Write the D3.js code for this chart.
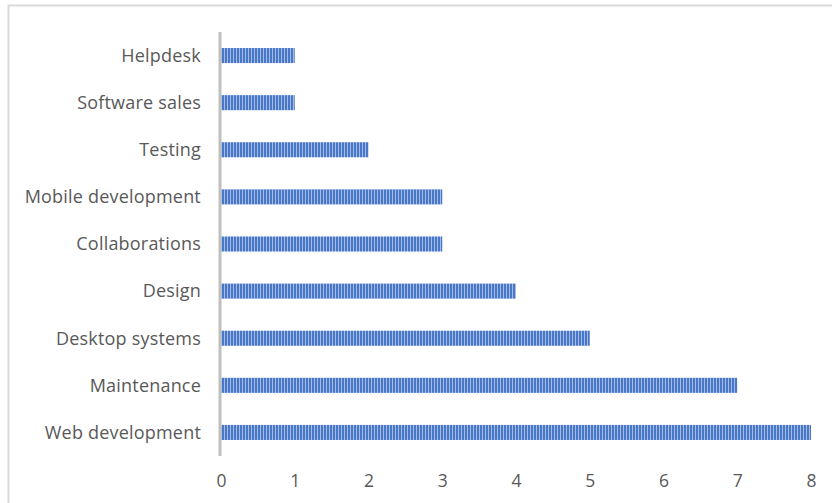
<!DOCTYPE html>
<html>
<head>
<meta charset="utf-8">
<script src="https://cdn.jsdelivr.net/npm/d3@7"></script>
<style>
  html, body { margin: 0; padding: 0; background: #ffffff; }
  svg { display: block; }
</style>
</head>
<body>
<div id="chart"></div>
<script>
// chart data
const categories = ['Helpdesk', 'Software sales', 'Testing', 'Mobile development', 'Collaborations',
  'Design', 'Desktop systems', 'Maintenance', 'Web development'];
const counts = [1, 1, 2, 3, 3, 4, 5, 7, 8];
const xTicks = [0, 1, 2, 3, 4, 5, 6, 7, 8];

const W = 832, H = 503;
const font = '"Open Sans", "Noto Sans", sans-serif';
const textColor = '#595959';

const svg = d3.select('#chart').append('svg')
  .attr('width', W)
  .attr('height', H);

// striped fill like the office "dark vertical" pattern
const defs = svg.append('defs');
const pat = defs.append('pattern')
  .attr('id', 'stripes')
  .attr('patternUnits', 'userSpaceOnUse')
  .attr('width', 3)
  .attr('height', 4);
pat.append('rect').attr('width', 3).attr('height', 4).attr('fill', '#4a78c8');
pat.append('rect').attr('x', 2).attr('width', 1).attr('height', 4).attr('fill', '#a4bbe6');

// chart border
svg.append('rect')
  .attr('x', 8.5).attr('y', 5.5)
  .attr('width', W).attr('height', H)
  .attr('fill', 'none')
  .attr('stroke', '#d9d9d9')
  .attr('stroke-width', 2);

const x = d3.scaleLinear().domain([0, 8]).range([221, 811]);
const y = d3.scaleBand().domain(categories).range([32, 456]).paddingInner(0.68).paddingOuter(0.34);

const g = svg.append('g');

// bars
g.selectAll('rect.bar')
  .data(categories)
  .enter().append('rect')
  .attr('class', 'bar')
  .attr('x', x(0))
  .attr('y', d => y(d))
  .attr('width', (d, i) => x(counts[i]) - x(0))
  .attr('height', y.bandwidth())
  .attr('fill', 'url(#stripes)');

// vertical axis line
g.append('line')
  .attr('x1', x(0) - 1).attr('x2', x(0) - 1)
  .attr('y1', 32).attr('y2', 456)
  .attr('stroke', '#bfbfbf')
  .attr('stroke-width', 3);

// category labels
g.selectAll('text.cat')
  .data(categories)
  .enter().append('text')
  .attr('class', 'cat')
  .attr('x', 201)
  .attr('y', d => y(d) + y.bandwidth() / 2)
  .attr('dy', '0.35em')
  .attr('text-anchor', 'end')
  .style('font', `18px ${font}`)
  .style('letter-spacing', '0.2px')
  .attr('fill', textColor)
  .text(d => d);

// x axis tick labels
const xAxis = d3.axisBottom(x).tickValues(xTicks).tickSize(0).tickPadding(0);
const ax = svg.append('g')
  .attr('transform', 'translate(0, 475)')
  .call(xAxis);
ax.select('.domain').remove();
ax.selectAll('text')
  .style('font', `17.5px ${font}`)
  .attr('fill', textColor);
</script>
</body>
</html>
